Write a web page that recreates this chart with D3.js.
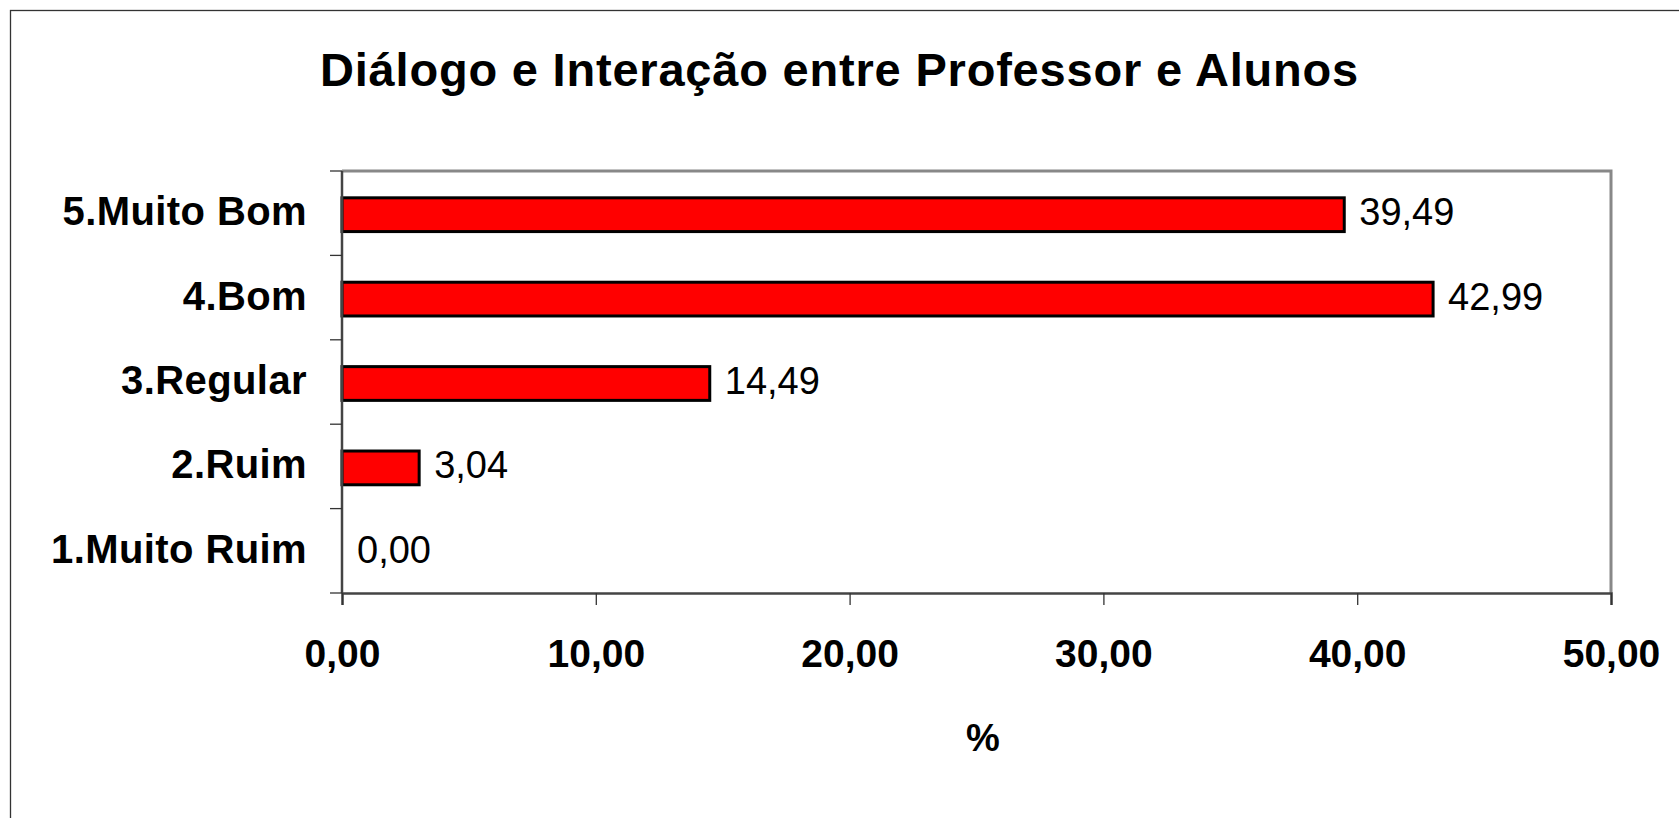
<!DOCTYPE html>
<html>
<head>
<meta charset="utf-8">
<script src="https://cdn.jsdelivr.net/npm/d3@7/dist/d3.min.js"></script>
<style>
  body { margin: 0; background: #fff; }
  text { font-family: "Liberation Sans", Arial, sans-serif; fill: #000; }
</style>
</head>
<body>
<div class="main"></div>
<script>
// data, top to bottom as drawn
const categories = ["5.Muito Bom", "4.Bom", "3.Regular", "2.Ruim", "1.Muito Ruim"];
const values = [39.49, 42.99, 14.49, 3.04, 0.00];
const xTicks = [0, 10, 20, 30, 40, 50];
const title = "Diálogo e Interação entre Professor e Alunos";
const xTitle = "%";

document.addEventListener("DOMContentLoaded", function () {
  const w = 1679;
  const h = 818;
  const left = 342, right = 1611, top = 171, bottom = 593;

  const fmt = (d) => d3.format(".2f")(d).replace(".", ",");

  const svg = d3.select(".main")
    .append("svg")
    .attr("width", w)
    .attr("height", h);

  // outer chart border (only top & left visible)
  svg.append("rect")
    .attr("x", 10.5)
    .attr("y", 10.5)
    .attr("width", w + 50)
    .attr("height", h + 50)
    .attr("fill", "none")
    .attr("stroke", "#333")
    .attr("stroke-width", 1.3);

  const xScale = d3.scaleLinear()
    .domain([0, 50])
    .range([left, right]);

  const yScale = d3.scaleBand()
    .domain(categories)
    .range([top, bottom])
    .padding(0);

  // plot frame top + right (gray)
  svg.append("path")
    .attr("d", "M" + left + "," + top + "H" + right + "V" + bottom)
    .attr("fill", "none")
    .attr("stroke", "#888")
    .attr("stroke-width", 3);

  // bars
  const barH = yScale.bandwidth() * 0.4;
  const data = categories.map((c, i) => ({ cat: c, val: values[i] }));

  svg.selectAll(".bar")
    .data(data.filter((d) => d.val > 0))
    .enter()
    .append("rect")
    .attr("class", "bar")
    .attr("x", xScale(0))
    .attr("y", (d) => yScale(d.cat) + yScale.bandwidth() / 2 - barH / 2 + 1.5)
    .attr("width", (d) => xScale(d.val) - xScale(0))
    .attr("height", barH)
    .attr("fill", "#ff0000")
    .attr("stroke", "#000")
    .attr("stroke-width", 3);

  // value labels
  svg.selectAll(".val")
    .data(data)
    .enter()
    .append("text")
    .attr("class", "val")
    .attr("x", (d) => xScale(d.val) + 15)
    .attr("y", (d) => yScale(d.cat) + yScale.bandwidth() / 2 + 12)
    .attr("font-size", "38px")
    .text((d) => fmt(d.val));

  // x axis
  const xAxis = d3.axisBottom(xScale)
    .tickValues(xTicks)
    .tickSize(12)
    .tickFormat(fmt);

  const gx = svg.append("g")
    .attr("transform", "translate(0," + bottom + ")")
    .call(xAxis);
  gx.select(".domain").attr("stroke", "#444").attr("stroke-width", 2.5);
  gx.selectAll(".tick line").attr("stroke", "#333").attr("stroke-width", 1.3);
  gx.selectAll(".tick text")
    .attr("y", 74)
    .attr("dy", 0)
    .attr("font-size", "39px")
    .attr("font-weight", "bold")
    .style("font-family", "'Liberation Sans', Arial, sans-serif");

  // y axis: ticks at band boundaries
  const gy = svg.append("g");
  gy.append("line")
    .attr("x1", left).attr("x2", left)
    .attr("y1", top).attr("y2", bottom)
    .attr("stroke", "#444")
    .attr("stroke-width", 2.5);
  const bounds = categories.map((c) => yScale(c)).concat([bottom]);
  gy.selectAll(".ytick")
    .data(bounds)
    .enter()
    .append("line")
    .attr("x1", left - 12).attr("x2", left)
    .attr("y1", (d) => d).attr("y2", (d) => d)
    .attr("stroke", "#333")
    .attr("stroke-width", 1.3);
  gy.selectAll(".ylab")
    .data(categories)
    .enter()
    .append("text")
    .attr("x", left - 35)
    .attr("y", (d) => yScale(d) + yScale.bandwidth() / 2 + 12)
    .attr("text-anchor", "end")
    .attr("font-size", "40px")
    .attr("font-weight", "bold")
    .style("letter-spacing", "0.4px")
    .text((d) => d);

  // axis title
  svg.append("text")
    .attr("x", 983)
    .attr("y", 751)
    .attr("text-anchor", "middle")
    .attr("font-size", "38px")
    .attr("font-weight", "bold")
    .text(xTitle);

  // chart title
  svg.append("text")
    .attr("x", w / 2)
    .attr("y", 86)
    .attr("text-anchor", "middle")
    .attr("font-size", "47px")
    .attr("font-weight", "bold")
    .style("letter-spacing", "0.8px")
    .text(title);
});
</script>
</body>
</html>
